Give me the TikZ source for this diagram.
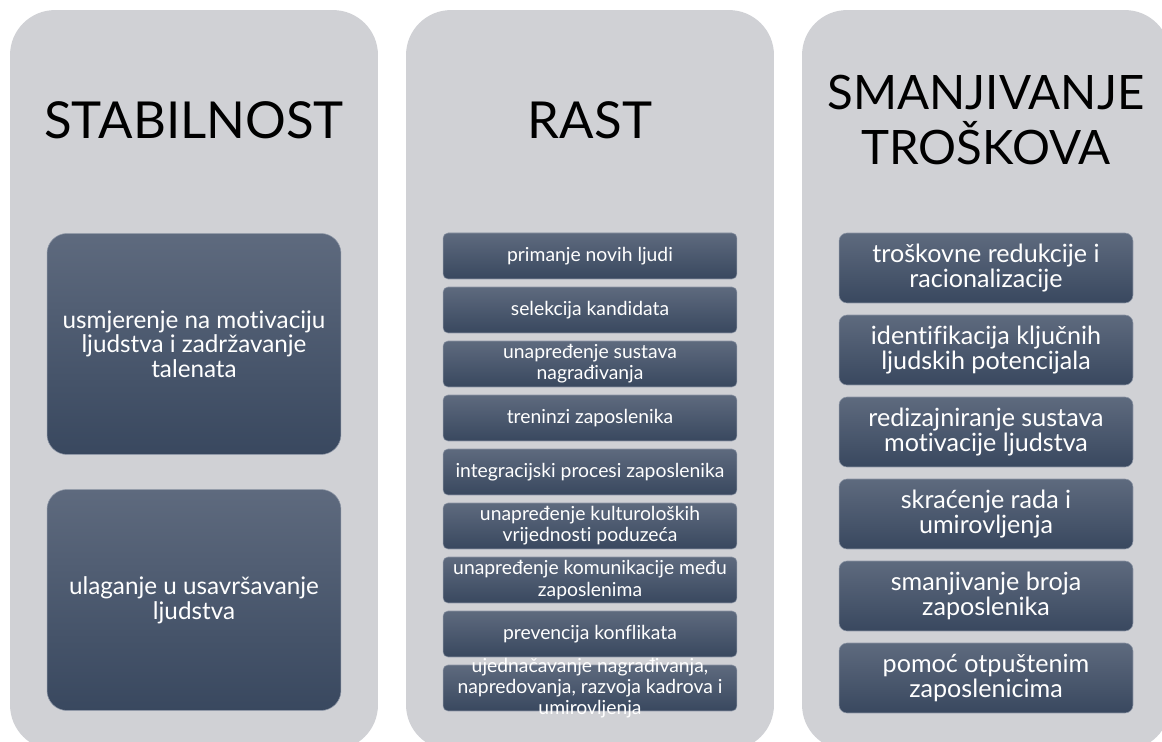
\documentclass[tikz,border=0pt]{standalone}
\usepackage{fontspec}
\setmainfont{Lato}[Ligatures=CommonOff]
\usepackage{xcolor}
\usepackage{tikz}
\definecolor{panel}{HTML}{D0D1D5}
\definecolor{boxtop}{HTML}{5E6A7E}
\definecolor{boxbot}{HTML}{39485F}
\definecolor{boxrim}{HTML}{8C95A5}
\tikzset{
  panelbox/.style={fill=panel, draw=none, rounded corners=0.9cm, minimum width=7.36cm, minimum height=14.8cm, inner sep=0pt},
  headline/.style={text=black, align=center, font=\fontsize{29}{31}\selectfont},
  tile/.style={shade, top color=boxtop, bottom color=boxbot, draw=boxrim, line width=0.3pt,
    minimum width=5.88cm, inner sep=0pt, text=white, align=center},
  bigtile/.style={tile, rounded corners=0.4cm, minimum height=4.42cm, font=\fontsize{13.8}{14}\selectfont},
  smalltile/.style={tile, rounded corners=0.1cm, minimum height=0.92cm, font=\fontsize{11}{12}\selectfont},
  midtile/.style={tile, rounded corners=0.16cm, minimum height=1.4cm, font=\fontsize{14.3}{14.5}\selectfont},
  smalltext/.style={text=white, align=center, inner sep=0pt, font=\fontsize{11}{12}\selectfont},
}
\begin{document}
\begin{tikzpicture}[x=0.02cm, y=-0.02cm]
\useasboundingbox (0,0) rectangle (1162,742);
\clip (0,0) rectangle (1162,742);

% stabilnost
\node[panelbox] (col1) at (194,380) {};
\node[headline] (ts) at (194,120) {STABILNOST};
\node[bigtile] (s1) at (194,344) {usmjerenje na motivaciju\\ljudstva i zadržavanje\\talenata};
\node[bigtile] (s2) at (194,600) {ulaganje u usavršavanje\\ljudstva};

% rast
\node[panelbox] (col2) at (590,380) {};
\node[headline] (tr) at (590,120) {RAST};
\node[smalltile] (r1) at (590,256) {primanje novih ljudi};
\node[smalltile] (r2) at (590,310) {selekcija kandidata};
\node[smalltile] (r3) at (590,364) {unapređenje sustava\\nagrađivanja};
\node[smalltile] (r4) at (590,418) {treninzi zaposlenika};
\node[smalltile] (r5) at (590,472) {integracijski procesi zaposlenika};
\node[smalltile] (r6) at (590,526) {unapređenje kulturoloških\\vrijednosti poduzeća};
\node[smalltile] (r7) at (590,580) {unapređenje komunikacije među\\zaposlenima};
\node[smalltile] (r8) at (590,634) {prevencija konflikata};
\node[smalltile] (r9) at (590,688) {};
\node[smalltext] at (r9) {ujednačavanje nagrađivanja,\\napredovanja, razvoja kadrova i\\umirovljenja};

% smanjivanje troskova
\node[panelbox] (col3) at (986,380) {};
\node[headline, font=\fontsize{27}{31}\selectfont] (tm) at (986,120) {SMANJIVANJE\\TROŠKOVA};
\node[midtile] (m1) at (986,268) {troškovne redukcije i\\racionalizacije};
\node[midtile] (m2) at (986,350) {identifikacija ključnih\\ljudskih potencijala};
\node[midtile] (m3) at (986,432) {redizajniranje sustava\\motivacije ljudstva};
\node[midtile] (m4) at (986,514) {skraćenje rada i\\umirovljenja};
\node[midtile] (m5) at (986,596) {smanjivanje broja\\zaposlenika};
\node[midtile] (m6) at (986,678) {pomoć otpuštenim\\zaposlenicima};
\end{tikzpicture}
\end{document}
